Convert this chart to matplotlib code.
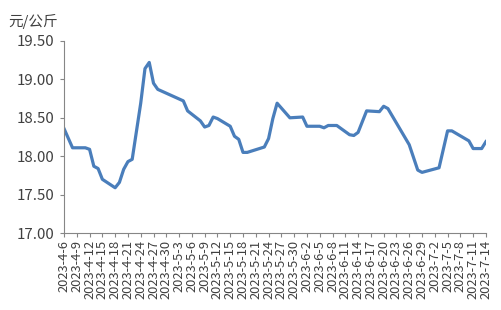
import matplotlib.pyplot as plt
import pandas as pd

plt.rcParams['font.family'] = ['Noto Sans CJK SC', 'DejaVu Sans']

# price readings (date, yuan/kg) taken from the reference line
dates = ['2023-04-06', '2023-04-08', '2023-04-11', '2023-04-12', '2023-04-13',
         '2023-04-14', '2023-04-15', '2023-04-18', '2023-04-19', '2023-04-20',
         '2023-04-21', '2023-04-22', '2023-04-24', '2023-04-25', '2023-04-26',
         '2023-04-27', '2023-04-28', '2023-05-04', '2023-05-05', '2023-05-08',
         '2023-05-09', '2023-05-10', '2023-05-11', '2023-05-12', '2023-05-15',
         '2023-05-16', '2023-05-17', '2023-05-18', '2023-05-19', '2023-05-23',
         '2023-05-24', '2023-05-25', '2023-05-26', '2023-05-29', '2023-06-01',
         '2023-06-02', '2023-06-05', '2023-06-06', '2023-06-07', '2023-06-09',
         '2023-06-12', '2023-06-13', '2023-06-14', '2023-06-16', '2023-06-19',
         '2023-06-20', '2023-06-21', '2023-06-26', '2023-06-28', '2023-06-29',
         '2023-07-03', '2023-07-05', '2023-07-06', '2023-07-10', '2023-07-11',
         '2023-07-13', '2023-07-14']
prices = [18.36, 18.11, 18.11, 18.09, 17.87,
          17.84, 17.70, 17.59, 17.66, 17.83,
          17.93, 17.96, 18.69, 19.14, 19.22,
          18.95, 18.87, 18.72, 18.59, 18.46,
          18.38, 18.40, 18.51, 18.49, 18.39,
          18.26, 18.22, 18.05, 18.05, 18.12,
          18.23, 18.49, 18.69, 18.50, 18.51,
          18.39, 18.39, 18.37, 18.40, 18.40,
          18.28, 18.27, 18.31, 18.59, 18.58,
          18.65, 18.62, 18.15, 17.82, 17.79,
          17.85, 18.33, 18.33, 18.20, 18.10,
          18.10, 18.19]

y_ticks = [17.0, 17.5, 18.0, 18.5, 19.0, 19.5]
unit_label = '元/公斤'

x = pd.to_datetime(dates)
start, end = pd.Timestamp('2023-04-06'), pd.Timestamp('2023-07-14')
x_ticks = pd.date_range(start, end, freq='3D')

fig = plt.figure(figsize=(5.02, 3.10), dpi=100)
ax = fig.add_axes([0.1275, 0.248, 0.8405, 0.62])

ax.plot(x, prices, color='#4a7ebb', lw=2.3, solid_joinstyle='round')

ax.set_xlim(start, end)
ax.set_ylim(17, 19.5)
ax.set_yticks(y_ticks)
ax.set_yticklabels([f'{v:.2f}' for v in y_ticks])
ax.set_xticks(x_ticks)
ax.set_xticklabels([f'{d.year}-{d.month}-{d.day}' for d in x_ticks], rotation=90)

for side in ['top', 'right']:
    ax.spines[side].set_visible(False)
for side in ['left', 'bottom']:
    ax.spines[side].set_color('#868686')
    ax.spines[side].set_linewidth(0.8)

ax.tick_params(axis='y', direction='out', length=3, color='#868686', labelsize=10.8,
               labelcolor='#404040', pad=4)
ax.tick_params(axis='x', direction='out', length=3, color='#868686', labelsize=9.3,
               labelcolor='#404040', pad=2)

fig.text(33 / 502, 1 - 21 / 310, unit_label, ha='center', va='center', fontsize=10.5,
         color='#404040')

fig.savefig('out.png', dpi=100)
